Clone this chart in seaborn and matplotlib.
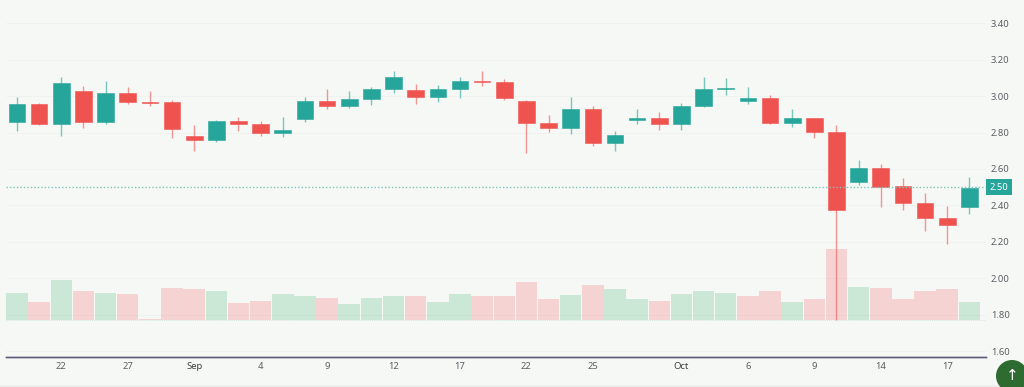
import matplotlib
matplotlib.use('Agg')
import matplotlib.pyplot as plt
import pandas as pd
import seaborn as sns
from matplotlib.patches import Circle, Rectangle
from matplotlib.transforms import IdentityTransform

opens = [2.859, 2.954, 2.848, 3.026, 2.855, 3.015, 2.967, 2.967, 2.779, 2.757, 2.861,
         2.846, 2.795, 2.874, 2.971, 2.947, 2.984, 3.038, 3.033, 2.995, 3.038, 3.084,
         3.077, 2.971, 2.854, 2.824, 2.927, 2.744, 2.868, 2.879, 2.846, 2.947, 3.037,
         2.971, 2.989, 2.854, 2.879, 2.803, 2.528, 2.607, 2.504, 2.413, 2.329, 2.391]
closes = [2.954, 2.848, 3.073, 2.855, 3.015, 2.969, 2.963, 2.819, 2.757, 2.861, 2.845,
          2.795, 2.815, 2.971, 2.947, 2.985, 3.040, 3.106, 2.995, 3.040, 3.084, 3.075,
          2.991, 2.854, 2.824, 2.927, 2.744, 2.784, 2.879, 2.846, 2.947, 3.040, 3.044,
          2.989, 2.854, 2.879, 2.803, 2.376, 2.607, 2.503, 2.411, 2.329, 2.292, 2.495]
highs = [2.993, 2.962, 3.106, 3.055, 3.084, 3.048, 3.026, 2.978, 2.839, 2.866, 2.887,
         2.863, 2.887, 2.996, 3.037, 3.026, 3.047, 3.137, 3.066, 3.058, 3.106, 3.137,
         3.091, 2.978, 2.898, 2.996, 2.945, 2.810, 2.930, 2.910, 2.962, 3.106, 3.097,
         3.048, 3.004, 2.927, 2.879, 2.839, 2.647, 2.625, 2.548, 2.468, 2.398, 2.556]
lows = [2.810, 2.841, 2.779, 2.823, 2.845, 2.958, 2.945, 2.771, 2.698, 2.746, 2.810,
        2.782, 2.775, 2.859, 2.930, 2.932, 2.951, 3.016, 2.958, 2.969, 2.987, 3.057,
        2.980, 2.689, 2.801, 2.790, 2.724, 2.700, 2.845, 2.813, 2.812, 2.941, 3.005,
        2.954, 2.848, 2.830, 2.771, 1.770, 2.514, 2.391, 2.376, 2.259, 2.190, 2.353]
volumes = [27, 18, 39.7, 28.7, 27, 26, 1, 32.3, 31, 28.7, 17, 19, 26.3, 24, 22.3, 16.3,
           22.3, 23.7, 23.7, 18.3, 26, 24.3, 24.3, 38.3, 21, 25, 35, 30.7, 20.7, 19, 26,
           28.7, 26.7, 24.3, 28.7, 18, 20.7, 71, 33, 31.7, 21.3, 28.7, 30.7, 18]
volume_side = ['up', 'down', 'up', 'down', 'up', 'down', 'down', 'down', 'down', 'up', 'down',
               'down', 'up', 'up', 'down', 'up', 'up', 'up', 'down', 'up', 'up', 'down',
               'down', 'down', 'down', 'up', 'down', 'up', 'up', 'down', 'up', 'up', 'up',
               'down', 'down', 'up', 'down', 'down', 'up', 'down', 'down', 'down', 'down', 'up']
x_tick_pos = [2, 5, 8, 11, 14, 17, 20, 23, 26, 30, 33, 36, 39, 42]
x_tick_labels = ['22', '27', 'Sep', '4', '9', '12', '17', '22', '25', 'Oct', '6', '9', '14', '17']
price_ticks = [1.6, 1.8, 2.0, 2.2, 2.4, 2.6, 2.8, 3.0, 3.2, 3.4]
last_price = 2.50

GREEN = '#26a69a'
RED = '#ef5350'
BG = '#f6f8f5'

df = pd.DataFrame({'day': range(len(opens)), 'open': opens, 'close': closes,
                   'high': highs, 'low': lows, 'volume': volumes, 'side': volume_side})
df['bottom'] = df[['open', 'close']].min(axis=1)
df['height'] = (df['close'] - df['open']).abs()
df['color'] = [GREEN if c >= o else RED for o, c in zip(df['open'], df['close'])]

sns.set_theme(style='white')
plt.rcParams['font.family'] = ['Noto Sans', 'DejaVu Sans']

fig = plt.figure(figsize=(10.24, 3.87), dpi=100)
fig.patch.set_facecolor(BG)
ax_vol = fig.add_axes([6 / 1024, 30.3 / 387, 980 / 1024, 356.7 / 387])
ax_vol.set_facecolor(BG)

# volume bars sit behind the candles on their own scale
sns.barplot(data=df, x='day', y='volume', hue='side', palette={'up': '#cbe7d6', 'down': '#f6d3d3'},
            dodge=False, width=0.97, saturation=1, legend=False, linewidth=0, ax=ax_vol)
ax_vol.set_ylim(-36.7, 320)
ax_vol.axhline(0, color='#d6e8dd', lw=0.7, ls=(0, (1, 1)))
ax_vol.yaxis.set_visible(False)

ax = ax_vol.twinx()
ax.patch.set_visible(False)
ax.set_ylim(1.570, 3.527)
ax.set_yticks(price_ticks)
ax.set_yticklabels([f'{t:.2f}' for t in price_ticks])
ax.yaxis.tick_right()
ax.tick_params(axis='y', length=0, pad=3.5, labelsize=6.8, labelcolor='#5a5f63')
ax.grid(axis='y', color='black', alpha=0.025, lw=0.8)
ax.set_axisbelow(True)

# candles
ax.vlines(df['day'], df['low'], df['high'], colors=df['color'], lw=1, alpha=0.6, zorder=2)
ax.bar(df['day'], df['height'], bottom=df['bottom'], width=0.75, color=df['color'],
       edgecolor=df['color'], linewidth=0.4, zorder=3)

# last price line and tag
ax.axhline(last_price, color='#7cc8b8', lw=1, ls=(0, (1, 1.5)), zorder=4)
ax.annotate(f'{last_price:.2f}', xy=(1, last_price), xycoords=ax.get_yaxis_transform(),
            xytext=(9.4, 0), textcoords='offset points', ha='center', va='center',
            fontsize=6.8, fontweight='bold', color='white', zorder=5, annotation_clip=False,
            bbox=dict(boxstyle='square,pad=0.35', fc=GREEN, ec='none'))

ax_vol.set_xlim(-0.497, 43.75)
ax_vol.set_xticks(x_tick_pos)
ax_vol.set_xticklabels(x_tick_labels)
ax_vol.set_xlabel('')
ax_vol.set_ylabel('')
ax_vol.tick_params(axis='x', length=0, pad=4, labelsize=6.8, labelcolor='#5a5f63')
for lab in ax_vol.get_xticklabels():
    if lab.get_text() in ('Sep', 'Oct'):
        lab.set_color('#3c4043')
        lab.set_fontweight('bold')

for a in (ax_vol, ax):
    for side in ('top', 'right', 'left'):
        a.spines[side].set_visible(False)
    a.spines['bottom'].set_color('#5b5b7a')
    a.spines['bottom'].set_linewidth(1)

# page furniture around the chart
fig.add_artist(Rectangle((0, 0), 1, 2 / 387, transform=fig.transFigure, fc='#eceeec', ec='none'))
fig.add_artist(Circle((1012, 11), 16, transform=IdentityTransform(), fc='#2e6b30', ec='none'))
fig.text(1012 / 1024, 11 / 387, '\u2191', color='white', fontsize=11, ha='center', va='center',
         family='DejaVu Sans')

fig.savefig('out.png', dpi=100, facecolor=fig.get_facecolor())
